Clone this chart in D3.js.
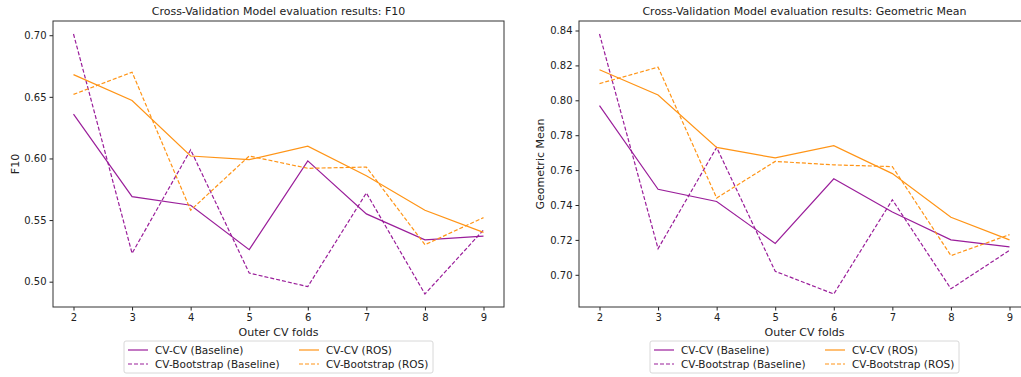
<!DOCTYPE html>
<html>
<head>
<meta charset="utf-8">
<script src="https://cdn.jsdelivr.net/npm/d3@7"></script>
<style>
  body { margin: 0; background: #fff; }
  svg, svg text { font-family: "DejaVu Sans", sans-serif; }
  .axis text { font-size: 10px; fill: #222; font-family: "DejaVu Sans", sans-serif; }
  .axis path, .axis line { stroke: #222; }
</style>
</head>
<body>
<svg width="1021" height="377"></svg>
<script>
// x axis: number of outer CV folds
var folds = [2, 3, 4, 5, 6, 7, 8, 9];

// F10 scores
var f10_cvcv_base = [0.636, 0.569, 0.562, 0.526, 0.598, 0.555, 0.534, 0.537];
var f10_boot_base = [0.701, 0.523, 0.607, 0.507, 0.496, 0.572, 0.490, 0.542];
var f10_cvcv_ros  = [0.668, 0.647, 0.602, 0.599, 0.610, 0.586, 0.558, 0.540];
var f10_boot_ros  = [0.652, 0.670, 0.558, 0.602, 0.592, 0.593, 0.530, 0.552];

// Geometric mean scores
var gm_cvcv_base = [0.797, 0.749, 0.742, 0.718, 0.755, 0.736, 0.720, 0.716];
var gm_boot_base = [0.838, 0.715, 0.773, 0.702, 0.689, 0.743, 0.692, 0.714];
var gm_cvcv_ros  = [0.8175, 0.803, 0.773, 0.767, 0.774, 0.758, 0.733, 0.720];
var gm_boot_ros  = [0.8096, 0.819, 0.744, 0.765, 0.763, 0.762, 0.711, 0.723];

var seriesNames = ["CV-CV (Baseline)", "CV-Bootstrap (Baseline)", "CV-CV (ROS)", "CV-Bootstrap (ROS)"];
var f10Ticks = [0.50, 0.55, 0.60, 0.65, 0.70];
var gmTicks = [0.70, 0.72, 0.74, 0.76, 0.78, 0.80, 0.82, 0.84];

var purple = "#9a1e9a", orange = "#ff9416";
var styles = [
  {color: purple, dash: null},
  {color: purple, dash: "4,2"},
  {color: orange, dash: null},
  {color: orange, dash: "4,2"}
];

var svg = d3.select("svg");

drawPanel({left: 53, top: 21, width: 451, height: 286,
  title: "Cross-Validation Model evaluation results: F10",
  ylabel: "F10", ylabelX: 15, ticks: f10Ticks,
  series: [f10_cvcv_base, f10_boot_base, f10_cvcv_ros, f10_boot_ros]});

drawPanel({left: 579, top: 21, width: 451, height: 286,
  title: "Cross-Validation Model evaluation results: Geometric Mean",
  ylabel: "Geometric Mean", ylabelX: 540, ticks: gmTicks,
  series: [gm_cvcv_base, gm_boot_base, gm_cvcv_ros, gm_boot_ros]});

function drawPanel(p) {
  var g = svg.append("g").attr("transform", "translate(" + p.left + "," + p.top + ")");

  var allVals = d3.merge(p.series);
  var ext = d3.extent(allVals), pad = (ext[1] - ext[0]) * 0.05;
  var y = d3.scaleLinear().domain([ext[0] - pad, ext[1] + pad]).range([p.height, 0]);
  var xpad = (d3.max(folds) - d3.min(folds)) * 0.05;
  var x = d3.scaleLinear().domain([d3.min(folds) - xpad, d3.max(folds) + xpad]).range([0, p.width]);

  g.append("g")
      .attr("class", "axis")
      .attr("transform", "translate(0," + p.height + ")")
      .call(d3.axisBottom(x).tickValues(folds).tickFormat(d3.format("d")).tickSize(3.5).tickPadding(3))
      .call(function(a) { a.select(".domain").remove(); a.attr("font-family", null); });

  g.append("g")
      .attr("class", "axis")
      .call(d3.axisLeft(y).tickValues(p.ticks).tickFormat(d3.format(".2f")).tickSize(3.5).tickPadding(3))
      .call(function(a) { a.select(".domain").remove(); a.attr("font-family", null); });

  var line = d3.line()
      .x(function(d, i) { return x(folds[i]); })
      .y(function(d) { return y(d); });

  p.series.forEach(function(s, i) {
    g.append("path")
        .datum(s)
        .attr("fill", "none")
        .attr("stroke", styles[i].color)
        .attr("stroke-width", 1.2)
        .attr("stroke-dasharray", styles[i].dash)
        .attr("d", line);
  });

  // frame
  g.append("rect")
      .attr("width", p.width).attr("height", p.height)
      .attr("fill", "none").attr("stroke", "#333").attr("stroke-width", 1);

  g.append("text")
      .attr("x", p.width / 2).attr("y", -6)
      .attr("text-anchor", "middle")
      .style("font-size", "11px").attr("fill", "#222")
      .text(p.title);

  g.append("text")
      .attr("x", p.width / 2).attr("y", p.height + 29)
      .attr("text-anchor", "middle")
      .style("font-size", "11px").attr("fill", "#222")
      .text("Outer CV folds");

  svg.append("text")
      .attr("transform", "translate(" + p.ylabelX + "," + (p.top + p.height / 2) + ") rotate(-90)")
      .attr("text-anchor", "middle")
      .attr("dy", "0.35em")
      .style("font-size", "11px").attr("fill", "#222")
      .text(p.ylabel);

  // legend
  var lw = 309, lh = 32;
  var leg = g.append("g").attr("transform", "translate(" + (p.width / 2 - lw / 2) + "," + (p.height + 34) + ")");
  leg.append("rect")
      .attr("width", lw).attr("height", lh).attr("rx", 2)
      .attr("fill", "#fff").attr("stroke", "#d8d8d8");
  var order = [0, 1, 2, 3];
  order.forEach(function(k) {
    var col = Math.floor(k / 2), row = k % 2;
    var lx = 4 + col * 171, ly = 9 + row * 14;
    leg.append("line")
        .attr("x1", lx).attr("x2", lx + 20).attr("y1", ly).attr("y2", ly)
        .attr("stroke", styles[k].color).attr("stroke-width", 1.2)
        .attr("stroke-dasharray", styles[k].dash);
    leg.append("text")
        .attr("x", lx + 27).attr("y", ly).attr("dy", "0.35em")
        .style("font-size", "10.5px").attr("fill", "#222")
        .text(seriesNames[k]);
  });
}
</script>
</body>
</html>
